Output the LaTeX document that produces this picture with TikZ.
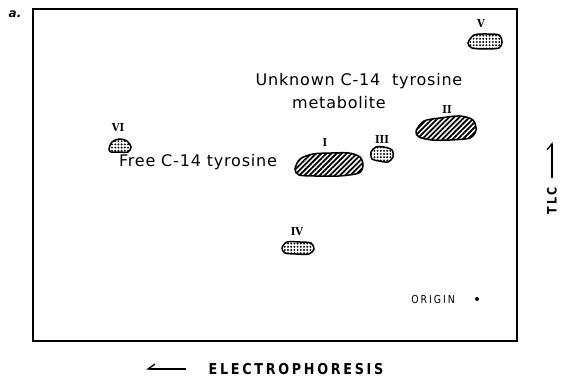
\documentclass[tikz,border=0pt]{standalone}
\usepackage{fontspec}
\setsansfont{DejaVu Sans}
\newfontfamily\labelfont[LetterSpace=5]{DejaVu Sans}
\newfontfamily\capsfont[FakeStretch=0.85,LetterSpace=18]{DejaVu Sans}
\newfontfamily\numfont[FakeStretch=0.9]{DejaVu Serif}
\usetikzlibrary{patterns.meta,arrows.meta}

\tikzset{
  spotlabel/.style={font=\numfont\bfseries\fontsize{11}{11}\selectfont, inner sep=0pt},
  textlabel/.style={font=\labelfont\fontsize{16}{18}\selectfont, inner sep=0pt},
  capslabel/.style={font=\capsfont\bfseries\fontsize{15}{17}\selectfont, inner sep=0pt},
  hatchspot/.style={draw, line width=1.5pt, pattern={Lines[angle=45,distance=3.6pt,line width=1.8pt]}},
  dotspot/.style={draw, line width=1.5pt, pattern={Dots[distance=3.2pt,radius=1.05pt]}},
}

\begin{document}
\begin{tikzpicture}[x=1pt,y=-1pt]
\useasboundingbox (0,0) rectangle (567,378);

% Plate
\draw[line width=1.6pt] (33,9) rectangle (517,341);
\node[font=\sffamily\bfseries\itshape\fontsize{12}{12}\selectfont, inner sep=0pt] (panel) at (15,14) {a.};

% Spot I (hatched)
\begin{scope}[shift={(329,164)}]
\draw[hatchspot] plot[smooth cycle] coordinates {(-34,5) (-29,-5) (-16,-10) (2,-11) (20,-11) (31,-7) (34,1) (30,9) (10,12) (-14,12) (-30,11)};
\end{scope}
\node[spotlabel] (labI) at (325,142) {I};

% Spot II (hatched)
\begin{scope}[shift={(446,128)}]
\draw[hatchspot] plot[smooth cycle] coordinates {(-30,3) (-22,-7) (-6,-10) (14,-12) (27,-8) (30,2) (24,10) (4,12) (-14,12) (-27,9)};
\end{scope}
\node[spotlabel] (labII) at (447,109) {II};

% Spot III (dotted)
\begin{scope}[shift={(382,154)}]
\draw[dotspot] plot[smooth cycle] coordinates {(-11,-2) (-6,-7) (2,-7) (10,-4) (11,3) (6,8) (-3,7) (-10,5)};
\end{scope}
\node[spotlabel] (labIII) at (382,139) {III};

% Spot IV (dotted)
\begin{scope}[shift={(298,248)}]
\draw[dotspot] plot[smooth cycle] coordinates {(-16,0) (-11,-6) (2,-6) (13,-5) (16,1) (11,6) (-2,6) (-13,5)};
\end{scope}
\node[spotlabel] (labIV) at (297,231) {IV};

% Spot V (dotted)
\begin{scope}[shift={(485,41)}]
\draw[dotspot] plot[smooth cycle] coordinates {(-17,2) (-11,-6) (2,-7) (14,-6) (17,1) (14,7) (0,8) (-13,7)};
\end{scope}
\node[spotlabel] (labV) at (481,23) {V};

% Spot VI (dotted)
\begin{scope}[shift={(120,146)}]
\draw[dotspot] plot[smooth cycle] coordinates {(-11,3) (-8,-4) (-1,-7) (7,-5) (11,1) (8,6) (-2,6) (-9,6)};
\end{scope}
\node[spotlabel] (labVI) at (118,127) {VI};

% Texts
\node[textlabel] (unknown) at (359,81) {Unknown C-14~ tyrosine};
\node[textlabel] (metab) at (339,103) {metabolite};
\node[textlabel] (free) at (198,162) {Free C-14 tyrosine};
\node[font=\capsfont\fontsize{11}{11}\selectfont, inner sep=0pt] (origin) at (433,299) {ORIGIN};
\fill (477,299) circle (2pt);

% Axes
\node[capslabel] (elec) at (296,369) {ELECTROPHORESIS};
\coordinate (elecA) at (146,369);
\coordinate (elecB) at (186,369);
\draw[line width=1.3pt, -{Straight Barb[harpoon,swap,length=7pt,width=10pt]}] (elecB) -- (elecA);
\node[capslabel, font=\capsfont\bfseries\fontsize{13}{15}\selectfont, rotate=90] (tlc) at (552,201) {TLC};
\coordinate (tlcA) at (552,178);
\coordinate (tlcB) at (552,142);
\draw[line width=1.3pt, -{Straight Barb[harpoon,length=6pt,width=10pt]}] (tlcA) -- (tlcB);
\end{tikzpicture}
\end{document}
